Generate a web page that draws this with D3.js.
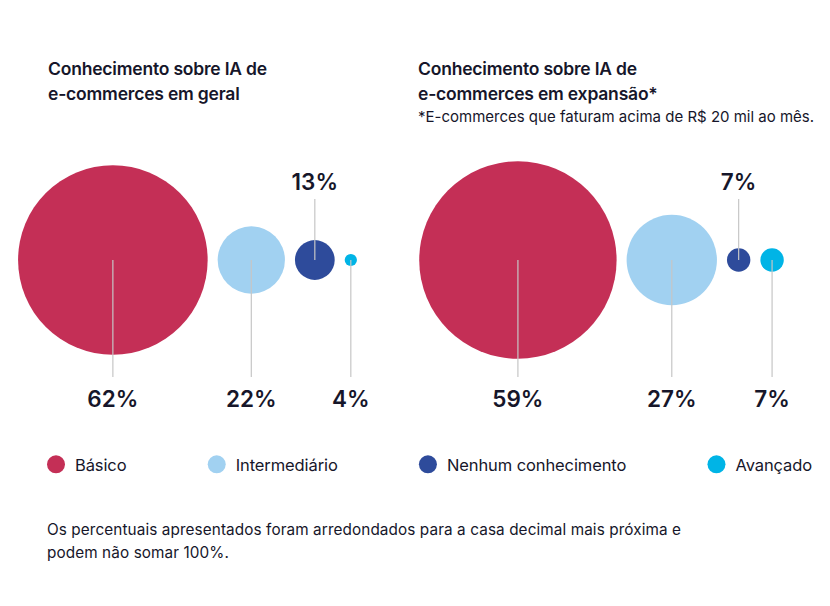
<!DOCTYPE html>
<html lang="pt-BR">
<head>
    <meta charset="UTF-8">
    <script src="https://d3js.org/d3.v7.min.js"></script>
    <style>
        body { margin: 0; background: #fff; }
        text { font-family: Inter, "Noto Sans", sans-serif; fill: #16162a; }
    </style>
</head>
<body>

<svg width="830" height="606"></svg>

<script>
    // categories and colours (same order in both panels and in the legend)
    var categories = ["Básico", "Intermediário", "Nenhum conhecimento", "Avançado"];
    var catColors = ["#c42f56", "#a1d1f1", "#2e4b9b", "#00b4e6"];

    // percentages
    var geralValues = [62, 22, 13, 4];
    var expansaoValues = [59, 27, 7, 7];

    // which bubble gets its label on top
    var topLabelIndex = 2;

    var titleGeral = ["Conhecimento sobre IA de", "e-commerces em geral"];
    var titleExpansao = ["Conhecimento sobre IA de", "e-commerces em expansão*"];
    var subtitleExpansao = "*E-commerces que faturam acima de R$ 20 mil ao mês.";
    var footnote = ["Os percentuais apresentados foram arredondados para a casa decimal mais próxima e",
                    "podem não somar 100%."];

    var svg = d3.select("svg");
    svg.append("rect").attr("width", 830).attr("height", 606).attr("fill", "#fff");

    var cy = 260,        // bubble centre line
        gap = 10,        // space between bubbles
        lineBottom = 377,
        lineTop = 199;

    // one panel = a row of bubbles packed side by side around a centre x
    function drawPanel(values, centerX, maxR, titleLines, titleX, subtitle) {
        var r = d3.scaleLinear().domain([0, d3.max(values)]).range([0, maxR]);

        var totalW = d3.sum(values, function(v) { return 2 * r(v); }) + gap * (values.length - 1);
        var x = centerX - totalW / 2;
        var nodes = values.map(function(v, i) {
            var node = {v: v, i: i, r: r(v), x: x + r(v)};
            x += 2 * r(v) + gap;
            return node;
        });

        var g = svg.append("g");

        // title
        g.selectAll(".title").data(titleLines).enter().append("text")
            .attr("x", titleX)
            .attr("y", function(d, i) { return 75 + i * 24.5; })
            .attr("font-size", 17.5)
            .attr("font-weight", 600)
            .attr("letter-spacing", -0.2)
            .text(function(d) { return d; });

        if (subtitle) {
            g.append("text")
                .attr("x", titleX).attr("y", 121.5)
                .attr("font-size", 15)
                .text(subtitle);
        }

        g.selectAll("circle").data(nodes).enter().append("circle")
            .attr("cx", function(d) { return d.x; })
            .attr("cy", cy)
            .attr("r", function(d) { return d.r; })
            .attr("fill", function(d) { return catColors[d.i]; });

        // leader lines from the centre
        g.selectAll(".leader").data(nodes).enter().append("line")
            .attr("x1", function(d) { return d.x; })
            .attr("x2", function(d) { return d.x; })
            .attr("y1", cy)
            .attr("y2", function(d) { return d.i === topLabelIndex ? lineTop : lineBottom; })
            .attr("stroke", "#c6c6c6")
            .attr("stroke-width", 1.2);

        g.selectAll(".pct").data(nodes).enter().append("text")
            .attr("x", function(d) { return d.x; })
            .attr("y", function(d) { return d.i === topLabelIndex ? 190 : 406.5; })
            .attr("text-anchor", "middle")
            .attr("font-size", 22.5)
            .attr("font-weight", 600)
            .text(function(d) { return d.v + "%"; });
    }

    drawPanel(geralValues, 187.5, 94.8, titleGeral, 48, null);
    drawPanel(expansaoValues, 601.5, 98.7, titleExpansao, 418, subtitleExpansao);

    // legend, spread between x=47 and x=812
    var legend = svg.append("g");
    var items = legend.selectAll("g").data(categories).enter().append("g");
    items.append("circle")
        .attr("cx", 9).attr("cy", 464.3).attr("r", 9)
        .attr("fill", function(d, i) { return catColors[i]; });
    items.append("text")
        .attr("x", 28).attr("y", 470.7)
        .attr("font-size", 16.5)
        .attr("letter-spacing", -0.1)
        .text(function(d) { return d; });

    var widths = [];
    items.each(function() { widths.push(28 + d3.select(this).select("text").node().getComputedTextLength()); });
    var legendGap = (812 - 47 - d3.sum(widths)) / (categories.length - 1);
    var lx = 47;
    items.attr("transform", function(d, i) {
        var t = "translate(" + lx + ",0)";
        lx += widths[i] + legendGap;
        return t;
    });

    // footnote
    svg.selectAll(".foot").data(footnote).enter().append("text")
        .attr("x", 47)
        .attr("y", function(d, i) { return 535 + i * 22.5; })
        .attr("font-size", 15.3)
        .attr("letter-spacing", 0.1)
        .text(function(d) { return d; });
</script>

</body>
</html>
